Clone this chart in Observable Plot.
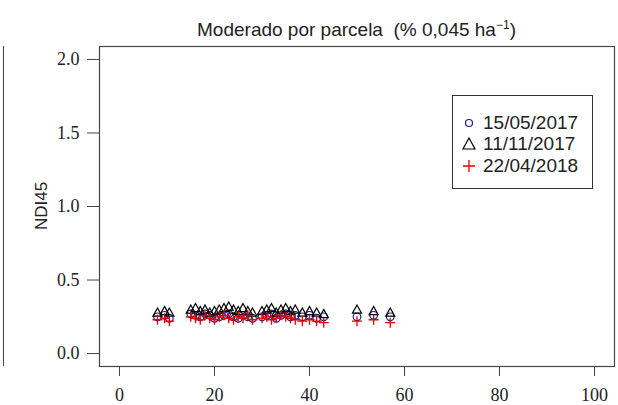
<!DOCTYPE html>
<html>
<head>
<meta charset="utf-8">
<script src="https://cdn.jsdelivr.net/npm/d3@7"></script>
<script src="https://cdn.jsdelivr.net/npm/@observablehq/plot@0.6"></script>
<style>
  html, body { margin: 0; padding: 0; background: #fff; }
  #wrap { position: relative; width: 618px; height: 405px; overflow: hidden; }
  #title { position: absolute; left: 99px; width: 515px; top: 18px; text-align: center;
           font-family: "Liberation Sans", Arial, sans-serif; font-size: 19px; color: #222; }
  #title sup { font-size: 12px; }
  #ylab { position: absolute; left: 42px; top: 206px; transform: translate(-50%, -50%) rotate(-90deg);
          font-family: "Liberation Sans", Arial, sans-serif; font-size: 17px; color: #222; white-space: nowrap; }
  #legend { position: absolute; left: 452px; top: 95px; width: 139px; height: 92px; border: 1px solid #333;
            font-family: "Liberation Sans", Arial, sans-serif; font-size: 19px; color: #222; background: #fff; }
  #legend .row { position: absolute; left: 8px; height: 22px; display: flex; align-items: center; }
  #legend svg { margin-right: 6px; }
  #leftline { position: absolute; left: 0; top: 46px; width: 3px; height: 320px; border-right: 1px solid #444; }
</style>
</head>
<body>
<div id="wrap">
  <div id="leftline"></div>
  <div id="title">Moderado por parcela&nbsp; (% 0,045 ha<sup>−1</sup>)</div>
  <div id="ylab">NDI45</div>
  <div id="chart"></div>
  <div id="legend"></div>
</div>
<script>
// ---- data ----
const seriesNames = ["15/05/2017", "11/11/2017", "22/04/2018"];
const xTicks = [0, 20, 40, 60, 80, 100];
const yTicks = [0.0, 0.5, 1.0, 1.5, 2.0];
const xs = [8, 9.5, 10.5, 15, 16, 17, 18, 19, 20, 21, 22, 23, 24, 25, 26, 27, 28,
            30, 31, 32, 33, 34, 35, 36, 37, 38.5, 40, 41.5, 43, 50, 53.5, 57];
const y2017a = [0.25,0.26,0.24, 0.27,0.26,0.25,0.27,0.26,0.24,0.25,0.26,0.27,0.25,0.24,0.26,0.25,0.24,
                0.25,0.26,0.27,0.24,0.26,0.27,0.25,0.26, 0.25,0.26,0.24,0.25, 0.25,0.26,0.25];
const y2017b = [0.28,0.29,0.28, 0.30,0.31,0.29,0.30,0.28,0.29,0.30,0.31,0.32,0.30,0.29,0.31,0.29,0.28,
                0.29,0.30,0.31,0.28,0.30,0.31,0.29,0.30, 0.28,0.29,0.28,0.27, 0.30,0.29,0.28];
const y2018  = [0.23,0.24,0.22, 0.25,0.24,0.23,0.26,0.24,0.23,0.25,0.26,0.24,0.23,0.25,0.24,0.26,0.23,
                0.24,0.25,0.23,0.24,0.26,0.25,0.24,0.23, 0.22,0.23,0.22,0.21, 0.22,0.23,0.21];
const colors = ["#1a1a8c", "#000000", "#e00000"];

const dA = xs.map((x, i) => ({x, y: y2017a[i]}));
const dB = xs.map((x, i) => ({x, y: y2017b[i]}));
const dC = xs.map((x, i) => ({x, y: y2018[i]}));

const cross = {
  draw(ctx, size) {
    const r = Math.sqrt(size / Math.PI);
    ctx.moveTo(-r, 0); ctx.lineTo(r, 0);
    ctx.moveTo(0, -r); ctx.lineTo(0, r);
  }
};
const tri = {
  draw(ctx, size) {
    const r = Math.sqrt(size / Math.PI);
    const h = r * 1.5;
    ctx.moveTo(0, -h * 0.62);
    ctx.lineTo(r * 0.95, h * 0.38 + 1);
    ctx.lineTo(-r * 0.95, h * 0.38 + 1);
    ctx.closePath();
  }
};

const chart = Plot.plot({
  width: 618,
  height: 405,
  marginLeft: 99,
  marginRight: 4,
  marginTop: 46,
  marginBottom: 39,
  style: {fontFamily: "Liberation Serif, Times New Roman, serif", fontSize: "18px", color: "#222", background: "transparent"},
  x: {domain: [-4.21, 104.21]},
  y: {domain: [-0.088, 2.088]},
  marks: [
    Plot.frame({stroke: "#444", strokeWidth: 1.2}),
    Plot.axisY({ticks: yTicks, tickFormat: d3.format(".1f"), tickSize: 12, tickPadding: 8, label: null, stroke: "#444"}),
    Plot.axisX({ticks: xTicks, tickSize: 10, tickPadding: 12, label: null, stroke: "#444"}),
    Plot.dot(dA, {x: "x", y: "y", r: 3.8, symbol: "circle", stroke: colors[0], fill: "none", strokeWidth: 1.2}),
    Plot.dot(dB, {x: "x", y: "y", r: 4.8, symbol: tri, stroke: colors[1], fill: "none", strokeWidth: 1.2}),
    Plot.dot(dC, {x: "x", y: "y", r: 5, symbol: cross, stroke: colors[2], fill: "none", strokeWidth: 1.3})
  ]
});
document.getElementById("chart").appendChild(chart);

// legend
const leg = document.getElementById("legend");
const legSym = [
  '<circle cx="8" cy="8" r="3.5" fill="none" stroke="' + colors[0] + '" stroke-width="1.2"/>',
  '<path d="M8,2 L14,13 L2,13 Z" fill="none" stroke="' + colors[1] + '" stroke-width="1.2"/>',
  '<path d="M2,8 L14,8 M8,2 L8,14" fill="none" stroke="' + colors[2] + '" stroke-width="1.3"/>'
];
const rowTops = [16, 37, 59];
seriesNames.forEach((name, i) => {
  const row = document.createElement("div");
  row.className = "row";
  row.style.top = rowTops[i] + "px";
  row.innerHTML = '<svg width="16" height="16">' + legSym[i] + '</svg><span>' + name + '</span>';
  leg.appendChild(row);
});
</script>
</body>
</html>
